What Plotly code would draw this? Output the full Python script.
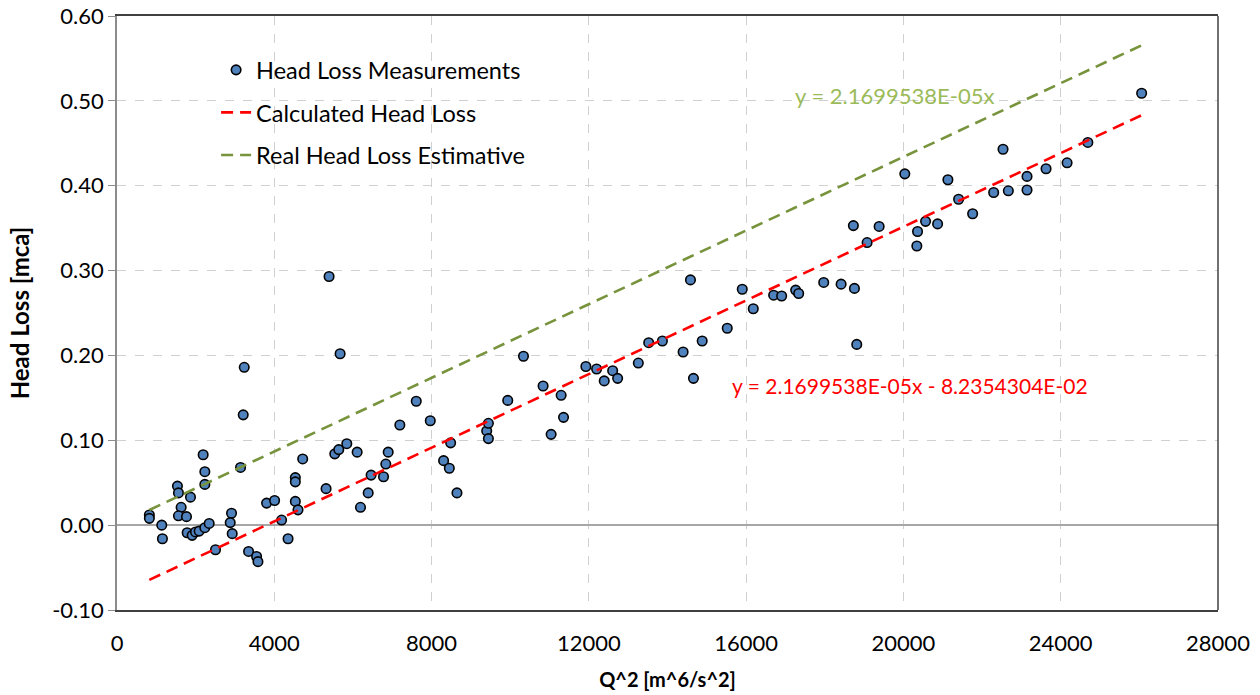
import numpy as np
import plotly.graph_objects as go

# Measured data: Q^2 [m^6/s^2] and head loss [mca]
q2 = [823, 823, 1138, 1155, 1537, 1563, 1631, 1563, 1767, 1869, 1784, 1911, 1996, 2089,
      2234, 2344, 2191, 2234, 2234, 2505, 2913, 2879, 2930, 3142, 3210, 3236, 3346, 3550,
      3584, 3804, 4008, 4186, 4350, 4535, 4603, 4535, 4535, 4722, 5674, 5538, 5640, 5844,
      5317, 6107, 6192, 6388, 6462, 6778, 6836, 6897, 7193, 7610, 7967, 5393, 8306, 8451,
      8485, 8646, 9402, 9445, 9445, 9937, 10337, 10836, 11040, 11295, 11356, 11924, 12197,
      12391, 12605, 12732, 13258, 13522, 13870, 14397, 14584, 14660, 14882, 15519, 15901,
      16181, 16699, 16903, 17259, 17336, 17973, 18415, 18754, 18813, 18727, 19076, 19382,
      20035, 20359, 20341, 20563, 20869, 21131, 21403, 21760, 22295, 22533, 22668, 23143,
      23143, 23627, 24162, 24690, 26058]
head_loss = [0.012, 0.008, 0.000, -0.016, 0.046, 0.038, 0.021, 0.011, 0.010, 0.033, -0.009,
             -0.012, -0.008, -0.007, -0.003, 0.002, 0.083, 0.063, 0.048, -0.029, 0.014, 0.003,
             -0.010, 0.068, 0.130, 0.186, -0.031, -0.037, -0.043, 0.026, 0.029, 0.006, -0.016,
             0.028, 0.018, 0.056, 0.051, 0.078, 0.202, 0.084, 0.089, 0.096, 0.043, 0.086, 0.021,
             0.038, 0.059, 0.057, 0.072, 0.086, 0.118, 0.146, 0.123, 0.293, 0.076, 0.067, 0.097,
             0.038, 0.111, 0.120, 0.102, 0.147, 0.199, 0.164, 0.107, 0.153, 0.127, 0.187, 0.184,
             0.170, 0.182, 0.173, 0.191, 0.215, 0.217, 0.204, 0.289, 0.173, 0.217, 0.232, 0.278,
             0.255, 0.271, 0.270, 0.277, 0.273, 0.286, 0.284, 0.279, 0.213, 0.353, 0.333, 0.352,
             0.414, 0.346, 0.329, 0.358, 0.355, 0.407, 0.384, 0.367, 0.392, 0.443, 0.394, 0.411,
             0.395, 0.420, 0.427, 0.451, 0.509]

# Trend line equations shown on the chart
slope = 2.1699538e-05
intercept_calc = -8.2354304e-02
intercept_real = 0.0

x_ticks = [0, 4000, 8000, 12000, 16000, 20000, 24000, 28000]
y_ticks = [-0.10, 0.00, 0.10, 0.20, 0.30, 0.40, 0.50, 0.60]

x_line = np.array([min(q2), max(q2)])
y_calc = slope * x_line + intercept_calc
y_real = slope * x_line + intercept_real

FONT = "Lato"
DASH = "12px,7px"
fig = go.Figure()
fig.add_trace(go.Scatter(
    x=q2, y=head_loss, mode="markers", name="Head Loss Measurements",
    legendgroup="a",
    marker=dict(size=9.5, color="#4F81BD", line=dict(color="#000000", width=1.6)),
))
fig.add_trace(go.Scatter(
    x=x_line, y=y_calc, mode="lines", name="Calculated Head Loss", legendgroup="b",
    line=dict(color="#FF0000", width=2.6, dash=DASH),
))
fig.add_trace(go.Scatter(
    x=x_line, y=y_real, mode="lines", name="Real Head Loss Estimative", legendgroup="c",
    line=dict(color="#77933C", width=2.6, dash=DASH),
))

fig.add_annotation(x=19765, y=0.506, xref="x", yref="y", showarrow=False,
                   text="y = 2.1699538E-05x", font=dict(family=FONT, size=22, color="#9BBB59"))
fig.add_annotation(x=20160, y=0.165, xref="x", yref="y", showarrow=False,
                   text="y = 2.1699538E-05x - 8.2354304E-02",
                   font=dict(family=FONT, size=21, color="#FF0000"))

# right border of plot area
fig.add_shape(type="line", xref="paper", yref="paper", x0=1, x1=1, y0=0, y1=1,
              line=dict(color="#404040", width=1.5))

fig.update_layout(
    width=1260, height=695,
    margin=dict(l=117, r=42, t=16, b=85),
    paper_bgcolor="white", plot_bgcolor="white",
    font=dict(family=FONT, size=22, color="#000000"),
    showlegend=True,
    legend=dict(x=0.09, y=0.946, xanchor="left", yanchor="top",
                bgcolor="rgba(0,0,0,0)", tracegroupgap=9,
                font=dict(family=FONT, size=23.5)),
    xaxis=dict(
        range=[0, 28000], tickvals=x_ticks, ticktext=[str(v) for v in x_ticks],
        automargin=False, ticklabeloverflow="allow",
        showgrid=True, gridcolor="#D0D0D0", griddash="dash", gridwidth=1,
        showline=True, linecolor="#404040", linewidth=1.5, mirror=True,
        zeroline=False, ticks="", ticklabelstandoff=13,
        title=dict(text="<b>Q^2 [m^6/s^2]</b>", font=dict(family=FONT, size=20), standoff=18),
        tickfont=dict(family=FONT, size=22),
    ),
    yaxis=dict(
        range=[-0.10, 0.60], tickvals=y_ticks, ticktext=[f"{v:.2f}" for v in y_ticks],
        automargin=False, ticklabeloverflow="allow",
        showgrid=True, gridcolor="#D0D0D0", griddash="dash", gridwidth=1,
        showline=True, linecolor="#8C8C8C", linewidth=1.5,
        zeroline=True, zerolinecolor="#A6A6A6", zerolinewidth=2,
        ticks="outside", ticklen=7, tickcolor="#8C8C8C",
        title=dict(text="<b>Head Loss [mca]</b>", font=dict(family=FONT, size=24), standoff=16),
        tickfont=dict(family=FONT, size=22),
    ),
)

# remove the browser's default body margin so the figure fills the window exactly
fig.write_html("out.html", config={"displayModeBar": False},
               post_script="document.body.style.margin='0px';")
